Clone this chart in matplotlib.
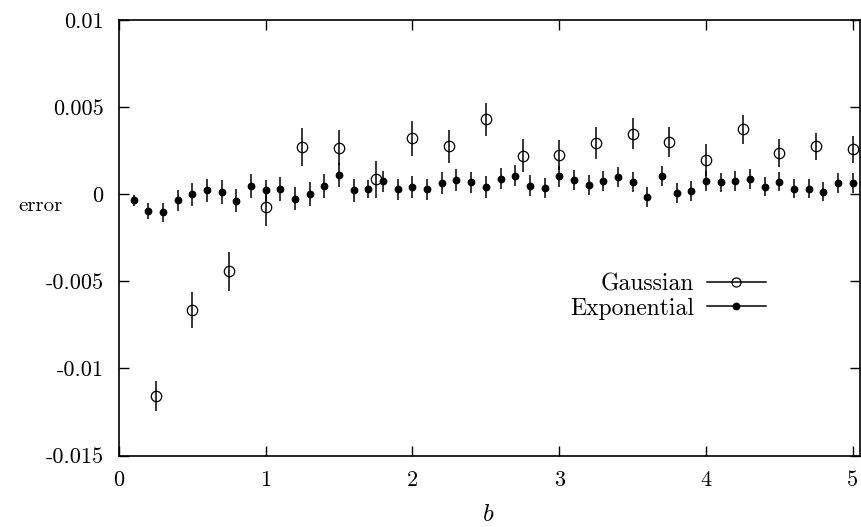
import matplotlib
matplotlib.use("Agg")
import matplotlib.pyplot as plt
from matplotlib.lines import Line2D

plt.rcParams['font.family'] = ['cmr10', 'DejaVu Serif']
plt.rcParams['mathtext.fontset'] = 'cm'
plt.rcParams['axes.unicode_minus'] = False

# Gaussian series
b_gauss = [0.25, 0.5, 0.75, 1.0, 1.25, 1.5, 1.75, 2.0, 2.25, 2.5,
           2.75, 3.0, 3.25, 3.5, 3.75, 4.0, 4.25, 4.5, 4.75, 5.0]
err_gauss = [-0.01158, -0.00665, -0.00443, -0.00071, 0.00271, 0.00268, 0.00085,
             0.00321, 0.00274, 0.00429, 0.00222, 0.00224, 0.00294, 0.00348,
             0.00300, 0.00196, 0.00374, 0.00237, 0.00274, 0.00257]
sd_gauss = [0.00086, 0.00103, 0.00110, 0.00110, 0.00107, 0.00103, 0.00106,
            0.00100, 0.00097, 0.00095, 0.00095, 0.00087, 0.00091, 0.00089,
            0.00086, 0.00090, 0.00083, 0.00080, 0.00080, 0.00078]

# Exponential series
b_exp = [0.1, 0.2, 0.3, 0.4, 0.5, 0.6, 0.7, 0.8, 0.9, 1.0,
         1.1, 1.2, 1.3, 1.4, 1.5, 1.6, 1.7, 1.8, 1.9, 2.0,
         2.1, 2.2, 2.3, 2.4, 2.5, 2.6, 2.7, 2.8, 2.9, 3.0,
         3.1, 3.2, 3.3, 3.4, 3.5, 3.6, 3.7, 3.8, 3.9, 4.0,
         4.1, 4.2, 4.3, 4.4, 4.5, 4.6, 4.7, 4.8, 4.9, 5.0]
err_exp = [-0.00036, -0.00099, -0.00103, -0.00036, 0.00000, 0.00023, 0.00013, -0.00038, 0.00046, 0.00023,
           0.00028, -0.00025, 0.00002, 0.00049, 0.00110, 0.00023, 0.00030, 0.00073, 0.00028, 0.00043,
           0.00028, 0.00063, 0.00082, 0.00068, 0.00040, 0.00089, 0.00106, 0.00049, 0.00036, 0.00104,
           0.00080, 0.00053, 0.00074, 0.00098, 0.00072, -0.00015, 0.00106, 0.00007, 0.00017, 0.00076,
           0.00068, 0.00076, 0.00087, 0.00043, 0.00072, 0.00032, 0.00032, 0.00015, 0.00064, 0.00064]
sd_exp = [0.00033, 0.00046, 0.00055, 0.00060, 0.00065, 0.00065, 0.00068, 0.00067, 0.00068, 0.00060,
          0.00068, 0.00068, 0.00069, 0.00068, 0.00070, 0.00065, 0.00052, 0.00063, 0.00060, 0.00062,
          0.00062, 0.00062, 0.00062, 0.00060, 0.00062, 0.00060, 0.00060, 0.00060, 0.00058, 0.00060,
          0.00058, 0.00058, 0.00058, 0.00058, 0.00058, 0.00058, 0.00058, 0.00056, 0.00056, 0.00058,
          0.00056, 0.00056, 0.00056, 0.00056, 0.00056, 0.00055, 0.00055, 0.00055, 0.00055, 0.00055]

x_ticks = [0, 1, 2, 3, 4, 5]
x_ticklabels = ["0", "1", "2", "3", "4", "5"]
y_ticks = [0.01, 0.005, 0, -0.005, -0.01, -0.015]
y_ticklabels = ["0.01", "0.005", "0", "-0.005", "-0.01", "-0.015"]

fig = plt.figure(figsize=(8.62, 5.27), dpi=100)
ax = fig.add_axes([119/862, 1 - 455.5/527, (860 - 119)/862, (455.5 - 20)/527])

ax.errorbar(b_gauss, err_gauss, yerr=sd_gauss, fmt='o', mfc='none', mec='black',
            ms=7.5, mew=0.9, ecolor='black', elinewidth=1.1, capsize=0, zorder=3)
ax.errorbar(b_exp, err_exp, yerr=sd_exp, fmt='o', mfc='black', mec='black',
            ms=4.6, ecolor='black', elinewidth=1.1, capsize=0, zorder=2)

ax.set_xlim(0, 5.05)
ax.set_ylim(-0.015, 0.01)
ax.set_xticks(x_ticks)
ax.set_xticklabels(x_ticklabels)
ax.set_yticks(y_ticks)
ax.set_yticklabels(y_ticklabels)
ax.tick_params(direction='in', length=7, width=1, labelsize=16,
               top=True, right=True, pad=11)
ax.tick_params(axis='y', pad=11)
for s in ax.spines.values():
    s.set_linewidth(1.2)

fig.text(41/862, 1 - 206/527, "error", fontsize=15, ha='center', va='center')
fig.text(488/862, 1 - 515/527, r"$b$", fontsize=18, ha='center', va='center')

handles = [
    Line2D([], [], color='black', lw=1.1, marker='o', mfc='none', mec='black', ms=6.5, mew=0.9),
    Line2D([], [], color='black', lw=1.1, marker='o', mfc='black', mec='black', ms=4.6),
]
ax.legend(handles, ["Gaussian", "Exponential"], loc='upper right',
          bbox_to_anchor=(766/862, 1 - 273/527), bbox_transform=fig.transFigure,
          frameon=False, markerfirst=False, fontsize=17, handlelength=2.5,
          handletextpad=0.55, labelspacing=0.1, borderpad=0, borderaxespad=0)

fig.savefig("out.png", dpi=100)
